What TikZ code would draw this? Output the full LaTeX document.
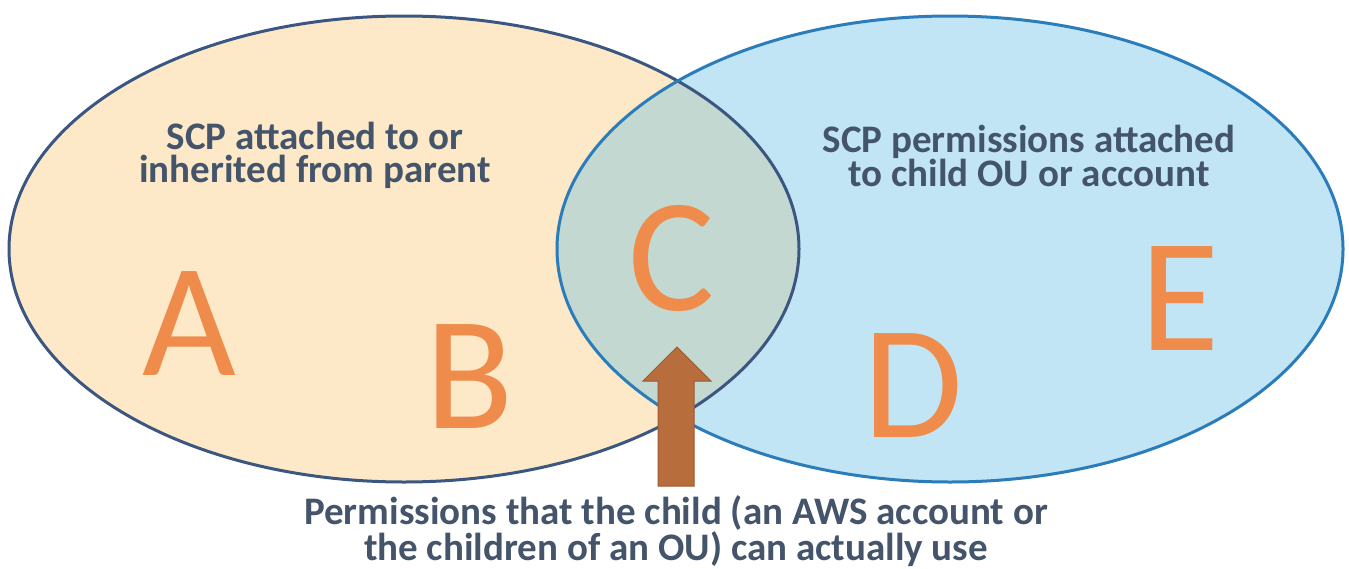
\documentclass[tikz,border=0pt]{standalone}
\usepackage{fontspec}
\setmainfont{Carlito}
\definecolor{peachfill}{HTML}{FDE9C8}
\definecolor{skyfill}{HTML}{C2E5F5}
\definecolor{mixfill}{HTML}{C3D8D0}
\definecolor{darkline}{HTML}{3B5680}
\definecolor{blueline}{HTML}{2A7DBA}
\definecolor{labeltext}{HTML}{44546A}
\definecolor{letterorange}{HTML}{EF8C4B}
\definecolor{arrowfill}{HTML}{B86E3C}
\definecolor{arrowline}{HTML}{9A5A30}
\tikzset{
  labelbox/.style={text=labeltext, align=center, inner sep=0pt,
    font=\bfseries\fontsize{39}{33}\selectfont},
  bigletter/.style={text=letterorange, inner sep=0pt, anchor=base,
    font=\fontsize{162}{162}\selectfont},
  leftell/.style={x radius=395pt, y radius=233pt},
  rightell/.style={x radius=393pt, y radius=233pt}
}
\begin{document}
\begin{tikzpicture}[x=1pt,y=-1pt]
\useasboundingbox (0,0) rectangle (1349,568);
% fills
\fill[peachfill] (404,249) ellipse [leftell];
\fill[skyfill] (950,249) ellipse [rightell];
\begin{scope}
  \clip (404,249) ellipse [leftell];
  \fill[mixfill] (950,249) ellipse [rightell];
\end{scope}
% outlines
\draw[darkline, line width=3pt] (404,249) ellipse [leftell];
\draw[blueline, line width=3pt] (950,249) ellipse [rightell];
% labels
\node[labelbox] (parent) at (315,155) {SCP attached to or\\inherited from parent};
\node[labelbox] (child) at (1029,156) {SCP permissions attached\\to child OU or account};
\node[labelbox] (use) at (676,531) {Permissions that the child (an AWS account or\\the children of an OU) can actually use};
% letters
\node[bigletter] (A) at (189,375) {A};
\node[bigletter] (B) at (470,428) {B};
\node[bigletter] (C) at (672,310) {C};
\node[bigletter] (D) at (913,437) {D};
\node[bigletter] (E) at (1180,350) {E};
% block arrow
\filldraw[fill=arrowfill, draw=arrowline, line width=1pt]
  (658,486) -- (658,381) -- (643,381) -- (677,347) -- (711,381)
  -- (694,381) -- (694,486) -- cycle;
\end{tikzpicture}
\end{document}
